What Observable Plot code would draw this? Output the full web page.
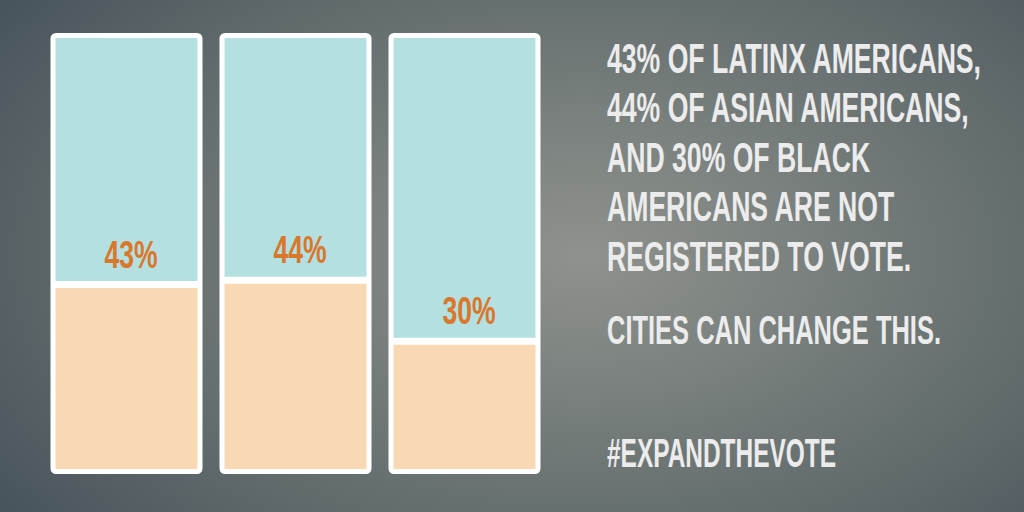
<!DOCTYPE html>
<html><head><meta charset="utf-8">
<script src="https://cdn.jsdelivr.net/npm/d3@7"></script>
<script src="https://cdn.jsdelivr.net/npm/@observablehq/plot@0.6"></script>
<style>
html,body{margin:0;padding:0;}
body{width:1024px;height:512px;overflow:hidden;}
#wrap{position:relative;width:1024px;height:512px;
  background:radial-gradient(ellipse 72% 88% at 57% 50%, #8f928d 0%, #7a817e 30%, #616b6c 65%, #45525a 100%);}
#chart{position:absolute;left:0;top:0;}
.txt{position:absolute;left:607px;color:#ececec;font-family:"Liberation Sans",Arial,sans-serif;font-weight:bold;line-height:49.5px;white-space:nowrap;transform-origin:0 0;}
.txt span{display:inline-block;}
</style></head>
<body><div id="wrap"><div id="chart"></div>
<div class="txt" id="statement"></div>
<div class="txt" id="callout"></div>
<div class="txt" id="hashtag"></div>
</div>
<script>
const groups = ["Latinx Americans", "Asian Americans", "Black Americans"];
const notRegistered = [43, 44, 30];
const total = 100;
const statementLines = ["43% OF LATINX AMERICANS,", "44% OF ASIAN AMERICANS,", "AND 30% OF BLACK", "AMERICANS ARE NOT", "REGISTERED TO VOTE."];
const calloutText = "CITIES CAN CHANGE THIS.";
const hashtagText = "#EXPANDTHEVOTE";

const data = groups.map((g, i) => ({group: g, value: notRegistered[i]}));

const cyan = "#b4e0e2", peach = "#f9d9b4", orange = "#d9772b";

const plot = Plot.plot({
  width: 590,
  height: 512,
  margin: 0,
  style: {background: "transparent"},
  x: {type: "band", domain: groups, range: [51.5, 539.5], paddingInner: 0.1294, paddingOuter: 0, axis: null},
  y: {domain: [0, total], range: [471.5, 35.5], axis: null},
  marks: [
    Plot.rectY(data, {x: "group", y1: "value", y2: () => total, fill: cyan}),
    Plot.rectY(data, {x: "group", y1: () => 0, y2: "value", fill: peach}),
    Plot.tickY(data, {x: "group", y: "value", stroke: "white", strokeWidth: 7}),
    Plot.rectY(data, {x: "group", y1: () => 0, y2: () => total, fill: "none", stroke: "white", strokeWidth: 5, rx: 3}),
    Plot.text(data, {x: "group", y: "value", text: d => d.value + "%", lineAnchor: "bottom", dy: -17, dx: 4,
      fill: orange, fontSize: 38, fontWeight: "bold", fontFamily: "Liberation Sans, Arial, sans-serif"})
  ]
});
document.getElementById("chart").appendChild(plot);

// condense label glyphs
plot.querySelectorAll("text").forEach(el => {
  const w = el.getComputedTextLength();
  el.setAttribute("textLength", w * 0.70);
  el.setAttribute("lengthAdjust", "spacingAndGlyphs");
});

function fill(id, lines) {
  const el = document.getElementById(id);
  lines.forEach(l => { const d = document.createElement("div"); const s = document.createElement("span"); s.textContent = l; d.appendChild(s); el.appendChild(d); });
  return el;
}
const lh = 49.5;
[
  ["statement", statementLines, 42, 73, 374],
  ["callout", [calloutText], 41, 345, 334],
  ["hashtag", [hashtagText], 40, 468, 229]
].forEach(([id, lines, fs, base, targetW]) => {
  const el = fill(id, lines);
  el.style.fontSize = fs + "px";
  const natural = el.querySelector("span").getBoundingClientRect().width;
  const offset = (lh - 1.117 * fs) / 2 + 0.905 * fs;
  el.style.top = (base - offset) + "px";
  el.style.transform = `scaleX(${targetW / natural})`;
});
</script>
</body></html>
